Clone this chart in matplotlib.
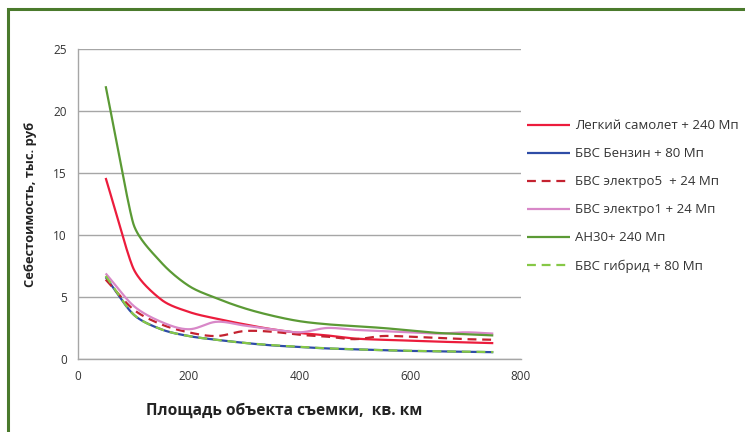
import numpy as np
import matplotlib
matplotlib.use("Agg")
import matplotlib.pyplot as plt
from matplotlib.patches import Rectangle

plt.rcParams['font.family'] = ['Open Sans', 'DejaVu Sans']

area = [50, 100, 150, 200, 250, 300, 350, 400, 450, 500, 550, 600, 650, 700, 750]

light_plane = [14.6, 7.3, 4.8, 3.8, 3.25, 2.8, 2.4, 2.1, 1.9, 1.65, 1.55, 1.48, 1.4, 1.34, 1.28]
bvs_petrol = [6.6, 3.6, 2.4, 1.85, 1.55, 1.3, 1.1, 0.97, 0.85, 0.78, 0.7, 0.65, 0.62, 0.58, 0.55]
bvs_electro5 = [6.4, 4.0, 2.8, 2.15, 1.85, 2.25, 2.2, 1.95, 1.8, 1.6, 1.85, 1.8, 1.7, 1.6, 1.55]
bvs_electro1 = [6.9, 4.3, 3.0, 2.4, 3.0, 2.7, 2.4, 2.15, 2.5, 2.35, 2.25, 2.15, 2.05, 2.15, 2.05]
an30 = [22.0, 10.9, 7.8, 5.9, 4.9, 4.1, 3.5, 3.05, 2.8, 2.65, 2.5, 2.3, 2.1, 2.0, 1.9]
bvs_hybrid = [6.7, 3.6, 2.4, 1.85, 1.55, 1.3, 1.12, 0.98, 0.86, 0.78, 0.71, 0.66, 0.62, 0.59, 0.56]

labels = ["Легкий самолет + 240 Мп", "БВС Бензин + 80 Мп", "БВС электро5  + 24 Мп",
          "БВС электро1 + 24 Мп", "АН30+ 240 Мп", "БВС гибрид + 80 Мп"]
x_ticks = [0, 200, 400, 600, 800]
y_ticks = [0, 5, 10, 15, 20, 25]


def smooth(ax, x, y, n=30):
    """Excel-like smoothed line, computed in screen space through the data points."""
    tr = ax.transData
    p = tr.transform(np.column_stack([x, y]).astype(float))
    m = len(p)
    tang = []
    for i in range(m):
        a = p[i - 1] if i > 0 else p[i]
        b = p[i + 1] if i < m - 1 else p[i]
        d = b - a
        nrm = np.hypot(*d)
        tang.append(d / nrm if nrm > 0 else d)
    out = []
    for i in range(m - 1):
        p1, p2 = p[i], p[i + 1]
        L = np.hypot(*(p2 - p1))
        Lin = np.hypot(*(p1 - p[i - 1])) if i > 0 else L
        Lout = np.hypot(*(p[i + 2] - p2)) if i + 2 < m else L
        a1 = min(L, Lin) / 3.0
        a2 = min(L, Lout) / 3.0
        c1 = p1 + tang[i] * a1
        c2 = p2 - tang[i + 1] * a2
        t = np.linspace(0, 1, n, endpoint=(i == m - 2))[:, None]
        seg = ((1 - t) ** 3) * p1 + 3 * ((1 - t) ** 2) * t * c1 + 3 * (1 - t) * t ** 2 * c2 + t ** 3 * p2
        out.append(seg)
    s = tr.inverted().transform(np.vstack(out))
    return s[:, 0], s[:, 1]


fig = plt.figure(figsize=(7.45, 4.32), dpi=100)
ax = fig.add_axes([0.1047, 0.1690, 0.5946, 0.7176])
ax.set_xlim(0, 800)
ax.set_ylim(0, 25)

series = [
    (light_plane, dict(color="#EC1C3C", lw=1.6, ls="-")),
    (bvs_petrol, dict(color="#2E4CA6", lw=1.6, ls="-")),
    (bvs_electro5, dict(color="#C42230", lw=1.6, ls=(0, (4, 2.6)))),
    (bvs_electro1, dict(color="#D888C8", lw=1.6, ls="-")),
    (an30, dict(color="#5B9A35", lw=1.6, ls="-")),
    (bvs_hybrid, dict(color="#86C846", lw=1.6, ls=(0, (4, 2.6)))),
]
for (vals, st), lab in zip(series, labels):
    xs, ys = smooth(ax, area, vals)
    ax.plot(xs, ys, label=lab, solid_capstyle="butt", dash_capstyle="butt", **st)

ax.set_xlim(0, 800)
ax.set_ylim(0, 25)
ax.set_xticks(x_ticks)
ax.set_yticks(y_ticks)
ax.tick_params(axis="both", length=0, labelsize=8.5, labelcolor="#333333", pad=8)
ax.grid(axis="y", color="#A6A6A6", lw=1.0)
ax.set_axisbelow(True)
for s in ["top", "right"]:
    ax.spines[s].set_visible(False)
for s in ["left", "bottom"]:
    ax.spines[s].set_color("#A6A6A6")
    ax.spines[s].set_linewidth(1.0)

ax.set_xlabel("Площадь объекта съемки,  кв. км", fontsize=11.2, fontweight="bold",
              color="#222222")
ax.xaxis.set_label_coords(0.465, -0.14)
ax.set_ylabel("Себестоимость, тыс. руб", fontsize=9.3, fontweight="bold",
              color="#222222", labelpad=12)

fig.legend(loc="upper left", bbox_to_anchor=(0.708, 0.724), frameon=False,
           fontsize=9.5, handlelength=3.2, handletextpad=0.4, labelspacing=1.14,
           borderaxespad=0, borderpad=0, labelcolor="#333333")

# green frame around the chart (right and bottom edges are cut off)
fig.patches.append(Rectangle((8 / 745, -0.05), 1.2, 1 - 9 / 432 + 0.05,
                             transform=fig.transFigure, fill=False,
                             edgecolor="#4A7A2C", lw=2.2))

fig.savefig("out.png", dpi=100)
